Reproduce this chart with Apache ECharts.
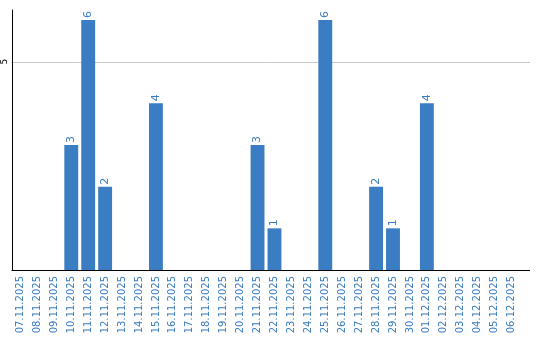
<!DOCTYPE html>
<html><head><meta charset="utf-8">
<script src="https://cdn.jsdelivr.net/npm/echarts@6/dist/echarts.min.js"></script>
<style>html,body{margin:0;padding:0;background:#fff}#c{width:540px;height:340px}</style>
</head><body><div id="c"></div>
<script>
const categories = ["07.11.2025","08.11.2025","09.11.2025","10.11.2025","11.11.2025","12.11.2025","13.11.2025","14.11.2025","15.11.2025","16.11.2025","17.11.2025","18.11.2025","19.11.2025","20.11.2025","21.11.2025","22.11.2025","23.11.2025","24.11.2025","25.11.2025","26.11.2025","27.11.2025","28.11.2025","29.11.2025","30.11.2025","01.12.2025","02.12.2025","03.12.2025","04.12.2025","05.12.2025","06.12.2025"];
const values = [0,0,0,3,6,2,0,0,4,0,0,0,0,0,3,1,0,0,6,0,0,2,1,0,4,0,0,0,0,0];
const yTicks = [5];

const chart = echarts.init(document.getElementById('c'), null, {renderer:'canvas'});
chart.setOption({
  animation:false,
  grid:{left:10,right:20,top:10,bottom:70,containLabel:false},
  xAxis:{type:'category',data:categories,
    axisLine:{lineStyle:{color:'#000',width:1}},
    axisTick:{show:false},
    axisLabel:{rotate:90,interval:0,color:'#3a7cc0',fontFamily:'DejaVu Sans',fontSize:10,margin:6}},
  yAxis:{type:'value',min:0,max:6.24,interval:5,
    axisLine:{show:true,lineStyle:{color:'#000',width:1}},
    axisTick:{show:false},
    splitLine:{show:false},
    axisLabel:{rotate:90,color:'#000',fontFamily:'DejaVu Sans',fontSize:9,margin:3,
      showMinLabel:false,showMaxLabel:false,
      formatter:v=>yTicks.includes(v)?String(v):''}},
  series:[{type:'bar',data:values.map(v=>v===0?null:v),barCategoryGap:'18%',
    itemStyle:{color:'#3a7dc3'},
    label:{show:true,position:'top',rotate:90,align:'left',verticalAlign:'middle',distance:2,
      color:'#3a7cc0',fontFamily:'DejaVu Sans',fontSize:11}}]
});
// gridline at tick and axis-line extension to the right edge like the reference
const rightX = chart.getWidth() - 10;
const gridLeft = 10;
const gridRight = chart.getWidth() - 20;
const y0 = chart.convertToPixel({yAxisIndex:0}, 0);
const graphics = [
  {type:'line',shape:{x1:gridRight,y1:Math.round(y0)+0.5,x2:rightX,y2:Math.round(y0)+0.5},style:{stroke:'#000',lineWidth:1},z:10}
];
yTicks.forEach(t=>{
  const y = Math.round(chart.convertToPixel({yAxisIndex:0}, t))+0.5;
  graphics.push({type:'line',shape:{x1:gridLeft+1,y1:y,x2:rightX,y2:y},style:{stroke:'#c8c8c8',lineWidth:1},z:-1});
});
chart.setOption({graphic:graphics});
</script></body></html>
